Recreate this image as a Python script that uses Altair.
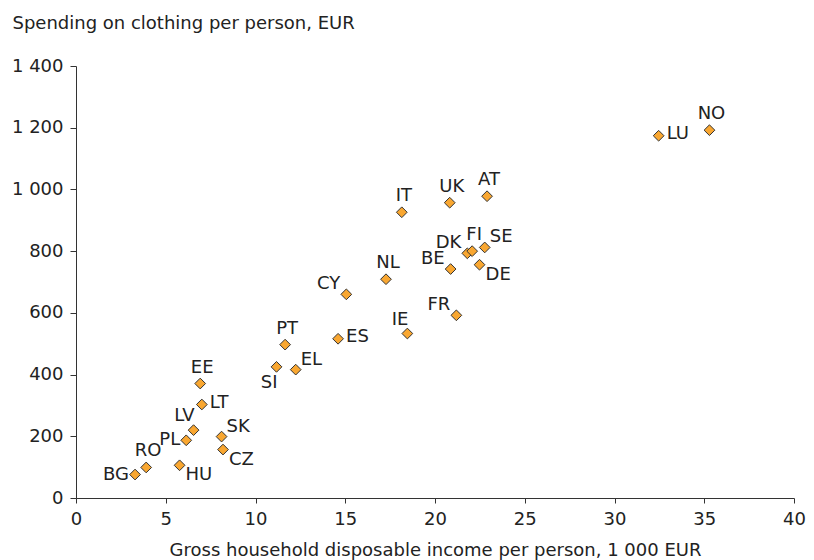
import altair as alt
import pandas as pd

countries = ["BG", "RO", "HU", "PL", "LV", "LT", "EE", "SK", "CZ", "SI",
             "EL", "PT", "ES", "CY", "NL", "IE", "IT", "UK", "AT", "BE",
             "FR", "DK", "FI", "SE", "DE", "LU", "NO"]
income = [3.29, 3.91, 5.77, 6.14, 6.55, 7.01, 6.92, 8.11, 8.19, 11.17,
          12.24, 11.65, 14.6, 15.06, 17.27, 18.46, 18.15, 20.82, 22.9, 20.87,
          21.19, 21.8, 22.07, 22.77, 22.48, 32.46, 35.29]
clothing = [76, 99, 106, 187, 220, 303, 371, 199, 157, 425,
            416, 497, 516, 660, 709, 533, 926, 957, 978, 742,
            592, 793, 800, 812, 756, 1174, 1192]
# label side relative to the marker (compass direction)
label_side = ["W", "N", "SE", "W", "NNW", "E", "N", "NE", "SE", "SSW",
              "NE", "N", "E", "NW", "N", "NNW", "N", "N", "N", "NW",
              "NW", "NW", "N", "NE", "SE", "E", "N"]

df = pd.DataFrame({"country": countries, "income": income,
                   "clothing": clothing, "side": label_side})

FONT = "DejaVu Sans"
TXT = "#222222"

xenc = alt.X("income:Q",
             scale=alt.Scale(domain=[0, 40], nice=False, zero=True),
             axis=alt.Axis(values=list(range(0, 41, 5)), grid=False,
                           title="Gross household disposable income per person, 1 000 EUR",
                           titleFont=FONT, titleFontSize=18, titleFontWeight="normal",
                           titleColor=TXT, titleBaseline="middle", titleY=52,
                           labelFont=FONT, labelFontSize=18, labelColor=TXT,
                           labelPadding=7, tickSize=5, tickColor="#333333",
                           domainColor="#333333", labelFlush=False))
yenc = alt.Y("clothing:Q",
             scale=alt.Scale(domain=[0, 1400], nice=False),
             axis=alt.Axis(values=list(range(0, 1401, 200)), grid=False,
                           title="Spending on clothing per person, EUR",
                           titleFont=FONT, titleFontSize=18, titleFontWeight="normal",
                           titleColor=TXT, titleAngle=0, titleAlign="left",
                           titleBaseline="alphabetic", titleX=-64, titleY=-38,
                           labelFont=FONT, labelFontSize=18, labelColor=TXT,
                           labelPadding=7, tickSize=6, tickColor="#333333",
                           domainColor="#333333",
                           labelExpr="replace(format(datum.value, ','), ',', ' ')"))

base = alt.Chart(df)

points = base.mark_point(shape="diamond", filled=True, fill="#F9A731",
                         stroke="#333333", strokeWidth=1, size=115,
                         opacity=1).encode(x=xenc, y=yenc)

offsets = {
    "E": ("left", 8, -2),
    "W": ("right", -6, 0),
    "N": ("center", 2, -16),
    "NE": ("left", 5, -10),
    "NW": ("right", -6, -10),
    "NNW": ("right", 1, -14),
    "SE": ("left", 6, 10),
    "SSW": ("right", 1, 16),
}

layers = [points]
for side, (align, dx, dy) in offsets.items():
    layers.append(
        base.transform_filter(alt.datum.side == side)
        .mark_text(align=align, baseline="middle", dx=dx, dy=dy,
                   font=FONT, fontSize=18, color=TXT)
        .encode(x="income:Q", y="clothing:Q", text="country:N")
    )

chart = alt.layer(*layers).properties(
    width=718, height=432,
    background="white",
    autosize=alt.AutoSizeParams(type="none"),
    padding={"left": 68, "top": 58, "right": 12, "bottom": 62},
).configure_view(strokeWidth=0)

chart.save("out.html", embed_options={"renderer": "svg", "actions": False})
